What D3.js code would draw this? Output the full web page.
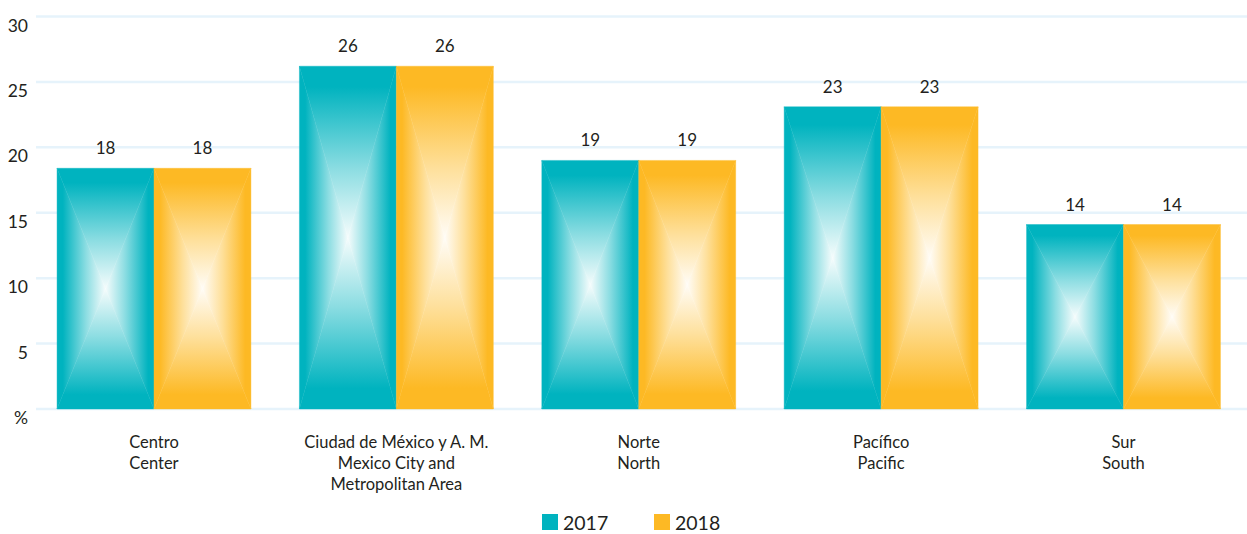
<!DOCTYPE html>
<meta charset="utf-8">
<style>
body { margin: 0; background: #fff; }
svg { display: block; font-family: "Lato", "Open Sans", sans-serif; }
.grid line { stroke: #e6f3fb; stroke-width: 2.5; }
.tick-label { font-size: 17.5px; fill: #231f20; text-anchor: end; }
.cat-label { font-size: 16.5px; fill: #231f20; text-anchor: middle; }
.val-label { font-size: 17px; fill: #231f20; text-anchor: middle; }
.legend text { font-size: 19.5px; fill: #231f20; }
</style>
<svg width="1247" height="534"></svg>
<script src="https://d3js.org/d3.v7.min.js"></script>
<script>

var categories = [
  ["Centro", "Center"],
  ["Ciudad de México y A. M.", "Mexico City and", "Metropolitan Area"],
  ["Norte", "North"],
  ["Pacífico", "Pacific"],
  ["Sur", "South"]
];
var years = ["2017", "2018"];
var values2017 = [18.4, 26.2, 19.0, 23.1, 14.1];
var values2018 = [18.4, 26.2, 19.0, 23.1, 14.1];
var yTicks = [0, 5, 10, 15, 20, 25, 30];
var colors = {"2017": "#00b3bf", "2018": "#fdb924"};

var svg = d3.select("svg");
var defs = svg.append("defs");

var x0 = d3.scaleBand()
    .domain(d3.range(categories.length))
    .range([32.8, 1244.7])
    .paddingInner(0.2)
    .paddingOuter(0.1);

var x1 = d3.scaleBand()
    .domain(years)
    .range([0, x0.bandwidth()]);

var y = d3.scaleLinear().domain([0, 30]).range([409, 16.5]);

// gridlines
svg.append("g").attr("class", "grid")
  .selectAll("line")
  .data(yTicks)
  .enter().append("line")
    .attr("x1", 36).attr("x2", 1247)
    .attr("y1", function(d) { return y(d); })
    .attr("y2", function(d) { return y(d); });

svg.append("g")
  .selectAll("text")
  .data(yTicks)
  .enter().append("text")
    .attr("class", "tick-label")
    .attr("x", 28)
    .attr("y", function(d) { return y(d) + 15; })
    .text(function(d) { return d === 0 ? "%" : d; });

// gradients: 4 directions per colour
var dirs = {
  l: [0, 0, 1, 0], r: [1, 0, 0, 0], t: [0, 0, 0, 1], b: [0, 1, 0, 0]
};
years.forEach(function(yr) {
  var c = colors[yr];
  Object.keys(dirs).forEach(function(k) {
    var d = dirs[k];
    var g = defs.append("linearGradient")
        .attr("id", "g" + yr + k)
        .attr("x1", d[0]).attr("y1", d[1]).attr("x2", d[2]).attr("y2", d[3]);
    g.append("stop").attr("offset", 0).attr("stop-color", c);
    g.append("stop").attr("offset", 0.12).attr("stop-color", c);
    g.append("stop").attr("offset", 0.6).attr("stop-color", d3.interpolateRgb(c, "#fff")(0.55));
    g.append("stop").attr("offset", 1).attr("stop-color", d3.interpolateRgb(c, "#fff")(0.96));
  });
});

var rows = [];
categories.forEach(function(cat, i) {
  rows.push({i: i, year: "2017", v: values2017[i]});
  rows.push({i: i, year: "2018", v: values2018[i]});
});

var bars = svg.append("g").selectAll("g")
  .data(rows)
  .enter().append("g");

bars.each(function(d) {
  var g = d3.select(this);
  var l = x0(d.i) + x1(d.year), r = l + x1.bandwidth();
  var t = y(d.v), b = y(0);
  var cx = (l + r) / 2, cy = (t + b) / 2;
  var tris = [
    ["l", [[l, t], [l, b], [cx, cy]]],
    ["r", [[r, t], [r, b], [cx, cy]]],
    ["t", [[l, t], [r, t], [cx, cy]]],
    ["b", [[l, b], [r, b], [cx, cy]]]
  ];
  tris.forEach(function(tr) {
    g.append("path")
      .attr("d", "M" + tr[1].join("L") + "Z")
      .attr("fill", "url(#g" + d.year + tr[0] + ")")
      .attr("stroke", "url(#g" + d.year + tr[0] + ")")
      .attr("stroke-width", 0.4);
  });
  g.append("text")
    .attr("class", "val-label")
    .attr("x", cx)
    .attr("y", t - 14)
    .text(d3.format(".0f")(d.v));
});

// category labels
var cats = svg.append("g").selectAll("text")
  .data(categories)
  .enter().append("text")
    .attr("class", "cat-label")
    .attr("x", function(d, i) { return x0(i) + x0.bandwidth() / 2; })
    .attr("y", 448);

cats.selectAll("tspan")
  .data(function(d) { return d; })
  .enter().append("tspan")
    .attr("x", function() { return d3.select(this.parentNode).attr("x"); })
    .attr("dy", function(d, i) { return i === 0 ? 0 : 21; })
    .text(function(d) { return d; });

// legend
var legend = svg.append("g").attr("class", "legend")
  .selectAll("g")
  .data(years)
  .enter().append("g")
    .attr("transform", function(d, i) { return "translate(" + (542 + i * 112) + ",514)"; });

legend.append("rect")
    .attr("width", 16).attr("height", 16)
    .attr("fill", function(d) { return colors[d]; });

legend.append("text")
    .attr("x", 21)
    .attr("y", 16)
    .text(function(d) { return d; });

</script>
